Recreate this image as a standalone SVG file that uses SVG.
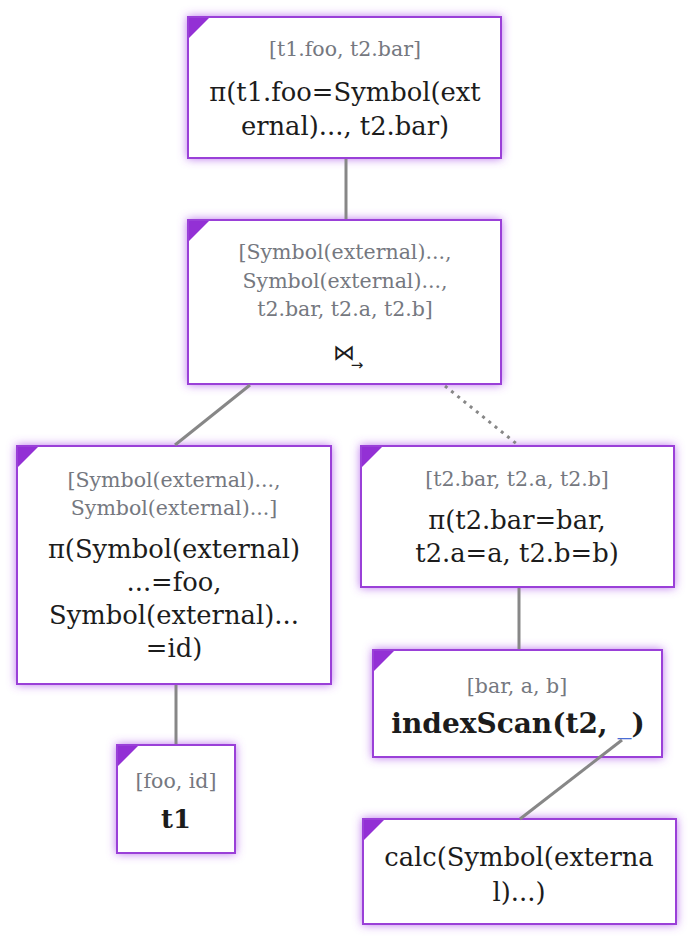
<svg xmlns="http://www.w3.org/2000/svg" width="694" height="942" viewBox="0 0 694 942">
<defs>
<filter id="glow" x="-20%" y="-20%" width="140%" height="140%">
<feFlood flood-color="#a64de8" flood-opacity="0.75" result="c"/>
<feComposite in="c" in2="SourceAlpha" operator="in" result="s"/>
<feGaussianBlur in="s" stdDeviation="5" result="b"/>
<feMerge><feMergeNode in="b"/><feMergeNode in="SourceGraphic"/></feMerge>
</filter>
</defs>
<style>
.box{fill:#fff;stroke:#9a3fd8;stroke-width:2;filter:url(#glow)}
.tri{fill:#9330d5}
.hd{font-family:"DejaVu Serif","Liberation Serif",serif;font-size:20.5px;fill:#757880;text-anchor:middle}
.mn{font-family:"DejaVu Serif","Liberation Serif",serif;font-size:25.8px;fill:#1c1c1c;text-anchor:middle}
.bd{font-weight:bold}
.ln{stroke:#878787;stroke-width:3;fill:none}
.dot{stroke-dasharray:3 5}
</style>
<g id="n1">
<rect class="box" x="188" y="17" width="313" height="141"/>
<path class="tri" d="M189 18h20l-20 20z"/>
<text class="hd" x="345" y="56">[t1.foo, t2.bar]</text>
<text class="mn" x="345" y="101">π(t1.foo=Symbol(ext</text>
<text class="mn" x="345" y="135">ernal)..., t2.bar)</text>
</g>
<g id="n2">
<rect class="box" x="188" y="220" width="313" height="164"/>
<path class="tri" d="M189 221h20l-20 20z"/>
<text class="hd" x="345" y="259">[Symbol(external)...,</text>
<text class="hd" x="345" y="288">Symbol(external)...,</text>
<text class="hd" x="345" y="316">t2.bar, t2.a, t2.b]</text>
<text class="mn" x="344" y="360" style="font-size:22px">⋈</text>
<text x="357" y="370" style="font-family:'DejaVu Sans',sans-serif;font-size:15px;fill:#1c1c1c;text-anchor:middle">→</text>
</g>
<g id="n3">
<rect class="box" x="17" y="446" width="314" height="238"/>
<path class="tri" d="M18 447h20l-20 20z"/>
<text class="hd" x="174" y="487">[Symbol(external)...,</text>
<text class="hd" x="174" y="515">Symbol(external)...]</text>
<text class="mn" x="174" y="558">π(Symbol(external)</text>
<text class="mn" x="174" y="591">...=foo,</text>
<text class="mn" x="174" y="624">Symbol(external)...</text>
<text class="mn" x="174" y="657">=id)</text>
</g>
<g id="n4">
<rect class="box" x="361" y="446" width="313" height="141"/>
<path class="tri" d="M362 447h20l-20 20z"/>
<text class="hd" x="517" y="486">[t2.bar, t2.a, t2.b]</text>
<text class="mn" x="517" y="529">π(t2.bar=bar,</text>
<text class="mn" x="517" y="562">t2.a=a, t2.b=b)</text>
</g>
<g id="n5">
<rect class="box" x="373" y="650" width="289" height="107"/>
<path class="tri" d="M374 651h20l-20 20z"/>
<text class="hd" x="517" y="693">[bar, a, b]</text>
<text class="mn bd" x="518" y="733" style="font-size:28px">indexScan(t2, <tspan fill="#4a6ed6" font-weight="normal">_</tspan>)</text>
</g>
<g id="n6">
<rect class="box" x="117" y="745" width="118" height="108"/>
<path class="tri" d="M118 746h20l-20 20z"/>
<text class="hd" x="176" y="788">[foo, id]</text>
<text class="mn bd" x="176" y="828">t1</text>
</g>
<g id="n7">
<rect class="box" x="363" y="819" width="313" height="105"/>
<path class="tri" d="M364 820h20l-20 20z"/>
<text class="mn" x="519" y="866">calc(Symbol(externa</text>
<text class="mn" x="519" y="901">l)...)</text>
</g>
<g id="connectors">
<line class="ln" x1="346" y1="159" x2="346" y2="219"/>
<line class="ln" x1="250" y1="385" x2="175" y2="445"/>
<line class="ln dot" x1="445" y1="386" x2="518" y2="445"/>
<line class="ln" x1="176" y1="685" x2="176" y2="744"/>
<line class="ln" x1="519" y1="588" x2="519" y2="649"/>
<line class="ln" x1="622" y1="740" x2="520" y2="819"/>
</g>
</svg>
